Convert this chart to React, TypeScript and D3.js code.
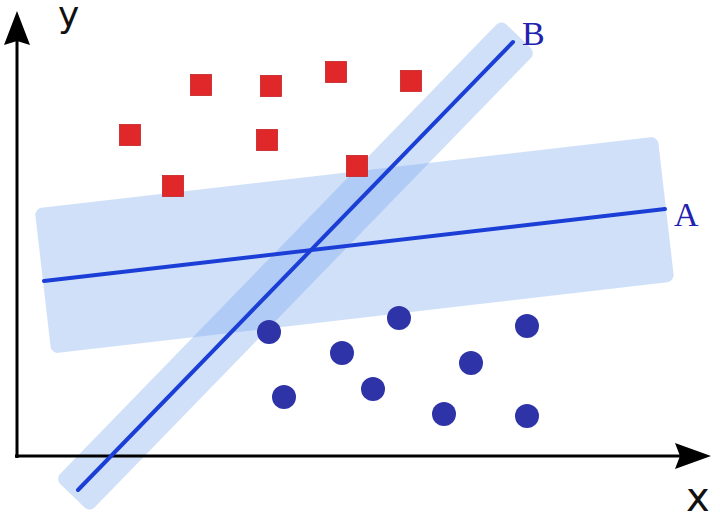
import * as d3 from 'd3';

// data units: origin at the axes corner, y pointing up
const redSquares: [number, number][] = [
  [184, 371], [254, 370], [319, 384], [394, 375],
  [113, 321], [250, 316], [340, 290], [156, 270],
];
const blueCircles: [number, number][] = [
  [252, 124], [382, 138], [510, 130], [325, 103], [454, 93],
  [267, 59], [356, 67], [427, 42], [510, 40],
];
const lineA: [number, number][] = [[27, 175], [648, 247]];
const lineB: [number, number][] = [[61, -34], [496, 414]];
const lineLabels = ['A', 'B'];
const axisLabels = ['x', 'y'];

const W = 720;
const H = 526;

const x = d3.scaleLinear().domain([0, 700]).range([17, 717]);
const y = d3.scaleLinear().domain([0, 450]).range([456, 6]);

function band(line: [number, number][], halfWidth: number, ext: number) {
  const [p0, p1] = line.map(d => [x(d[0]), y(d[1])]);
  const dx = p1[0] - p0[0];
  const dy = p1[1] - p0[1];
  const len = Math.hypot(dx, dy);
  const angle = (Math.atan2(dy, dx) * 180) / Math.PI;
  const cx = (p0[0] + p1[0]) / 2;
  const cy = (p0[1] + p1[1]) / 2;
  return { cx, cy, len: len + ext * 2, angle, halfWidth };
}

export default function App() {
  const bands = [band(lineA, 73, 1), band(lineB, 24, 8)];
  const lines = [lineA, lineB];
  const lineGen = d3.line<[number, number]>().x(d => x(d[0])).y(d => y(d[1]));
  const sq = 21;

  return (
    <svg
      width={W}
      height={H}
      viewBox={`0 0 ${W} ${H}`}
      style={{ position: 'absolute', left: 0, top: 0, background: '#fff' }}
    >
      {/* margin bands */}
      {bands.map((b, i) => (
        <rect
          key={i}
          x={-b.len / 2}
          y={-b.halfWidth}
          width={b.len}
          height={b.halfWidth * 2}
          rx={7}
          fill="#6ea0eb"
          fillOpacity={0.32}
          transform={`translate(${b.cx},${b.cy}) rotate(${b.angle})`}
        />
      ))}

      {/* axes */}
      <line x1={17} y1={458} x2={17} y2={40} stroke="#000" strokeWidth={3} />
      <path d="M17,11 L30,45 L17,41 L4,45 Z" fill="#000" />
      <line x1={15} y1={456} x2={682} y2={456} stroke="#000" strokeWidth={3} />
      <path d="M711,456 L675,443 L680,456 L675,469 Z" fill="#000" />

      {/* separating lines */}
      {lines.map((l, i) => (
        <path key={i} d={lineGen(l) ?? ''} stroke="#1a3ed6" strokeWidth={4} fill="none" strokeLinecap="round" />
      ))}

      {redSquares.map((d, i) => (
        <rect
          key={i}
          x={x(d[0]) - sq / 2}
          y={y(d[1]) - sq / 2}
          width={sq}
          height={sq}
          fill="#e0282a"
          stroke="#c42225"
          strokeWidth={0.8}
        />
      ))}
      {blueCircles.map((d, i) => (
        <circle key={i} cx={x(d[0])} cy={y(d[1])} r={12} fill="#2e33a8" />
      ))}

      <text x={674} y={226} fontFamily="Liberation Serif" fontSize={34} fill="#2222b0">
        {lineLabels[0]}
      </text>
      <text x={522} y={45} fontFamily="Liberation Serif" fontSize={34} fill="#2222b0">
        {lineLabels[1]}
      </text>

      <text x={686} y={511} fontFamily="DejaVu Sans" fontSize={40} fill="#111">
        {axisLabels[0]}
      </text>
      <text x={58} y={27} fontFamily="DejaVu Sans" fontSize={36} fill="#111">
        {axisLabels[1]}
      </text>
    </svg>
  );
}
